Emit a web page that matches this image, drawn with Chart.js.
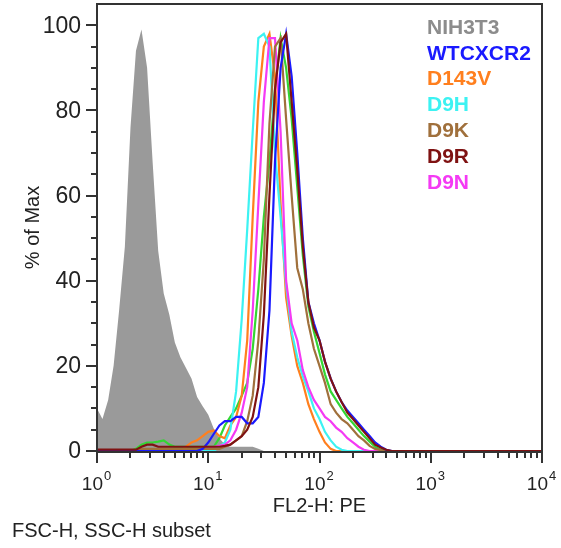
<!DOCTYPE html>
<html>
<head>
<meta charset="utf-8">
<script src="https://cdn.jsdelivr.net/npm/chart.js@4.4.0/dist/chart.umd.min.js"></script>
<style>
  body { margin: 0; background: #fff; }
</style>
</head>
<body>
<canvas id="histo" width="561" height="548"></canvas>
<script>
// FL2-H bin centres (20 bins per decade), last point closes the axis at 10^4
var bins = [1.00, 1.12, 1.26, 1.41, 1.58, 1.78, 2.00, 2.24, 2.51, 2.82,
            3.16, 3.55, 3.98, 4.47, 5.01, 5.62, 6.31, 7.08, 7.94, 8.91,
            10.0, 11.2, 12.6, 14.1, 15.8, 17.8, 20.0, 22.4, 25.1, 28.2,
            31.6, 35.5, 39.8, 44.7, 50.1, 56.2, 63.1, 70.8, 79.4, 89.1,
            100, 112, 126, 141, 158, 178, 200, 224, 251, 282,
            316, 355, 398, 447, 501, 562, 10000];

// % of Max per bin
var nih3t3 = [10, 7.5, 12, 20, 33, 48, 76, 94, 99, 90,
              68, 47, 37, 32, 25.5, 22, 19.5, 17, 12.7, 10.5,
              8.5, 5.3, 3, 1.5, 1, 1, 1, 1, 1, 0.5,
              0, 0, 0, 0, 0, 0, 0, 0, 0, 0,
              0, 0, 0, 0, 0, 0, 0, 0, 0, 0,
              0, 0, 0, 0, 0, 0, 0];
var wtcxcr2 = [0, 0, 0, 0, 0, 0, 0, 0, 0, 0,
               0, 0, 0, 0, 0, 0, 0, 0, 0, 0.5,
               2, 4, 6, 7, 7, 8, 8, 6.5, 6.5, 8,
               16, 33, 68, 90, 98, 88, 70, 50, 35, 30,
               26, 21, 17, 14, 11.5, 9.5, 8, 6.5, 5, 3.5,
               2, 1, 0.3, 0, 0, 0, 0];
var d143v = [0, 0, 0, 0, 0, 0, 0, 0, 0, 0,
             0, 0, 0, 0, 0, 0, 1, 2, 2.5, 3.5,
             4.5, 4.8, 3.5, 3, 6, 8, 13, 26, 55, 82,
             95, 98, 88, 58, 36, 27, 20, 16, 11, 7.5,
             4.5, 2, 0.5, 0, 0, 0, 0, 0, 0, 0,
             0, 0, 0, 0, 0, 0, 0];
var d9h = [0, 0, 0, 0, 0, 0, 0, 0, 0, 0,
           0, 0, 0, 0, 0, 0, 0, 0, 0, 0,
           0, 0, 1, 2, 5, 14, 31, 52, 75, 97,
           98, 95, 70, 55, 39, 28, 22, 17.5, 14, 10,
           7.5, 4.5, 2.5, 1, 0.3, 0, 0, 0, 0, 0,
           0, 0, 0, 0, 0, 0, 0];
var d9k = [0, 0, 0, 0, 0, 0, 0, 0, 0.5, 0.5,
           0.5, 0.5, 0.5, 0.5, 0.5, 0.5, 0.5, 0.5, 0.5, 0.5,
           0.5, 0.5, 0.5, 1, 1.5, 2.5, 3.5, 7, 13, 26,
           45, 77, 95, 97, 78, 60, 43, 38, 30, 24,
           20, 16, 11, 9, 7.5, 6.5, 5, 3.5, 2.5, 1.2,
           0.5, 0.2, 0, 0, 0, 0, 0];
var d9r = [0.3, 0.3, 0.3, 0.3, 0.3, 0.3, 0.3, 0.3, 1, 1.5,
           1.5, 1, 1, 1, 1, 1, 1, 1, 1, 1,
           1, 1, 1, 1.2, 1.5, 2.5, 3.5, 5, 8, 15,
           32, 60, 85, 96, 98, 82, 66, 48, 35, 29,
           26, 21, 17, 14, 11.5, 9, 7.5, 6, 4.5, 3,
           1.5, 0.8, 0.3, 0, 0, 0, 0];
var d9n = [0, 0, 0, 0, 0, 0, 0, 0, 0, 0,
           0, 0, 0, 0, 0, 0, 0, 0, 0, 0.5,
           0.7, 1, 1.2, 1.5, 2.5, 5, 9, 15, 33, 58,
           82, 97, 97, 75, 40, 30, 26, 19, 15, 12,
           10, 8, 7, 5.5, 4.5, 3, 2, 1, 0.3, 0,
           0, 0, 0, 0, 0, 0, 0];
// extra green trace in the overlay (not listed in the legend)
var unlabeled = [0, 0, 0, 0, 0, 0, 0, 0.5, 1.5, 2,
                 2, 2.2, 2.5, 1.5, 1, 1, 1, 1, 1, 1,
                 1, 1, 3, 6, 8, 10, 13, 16, 24, 38,
                 55, 68, 85, 97, 90, 78, 62, 46, 34, 28,
                 23, 18, 14, 12, 10, 8, 6.5, 5, 3.5, 2.2,
                 1, 0.3, 0, 0, 0, 0, 0];

var decades = [1, 10, 100, 1000, 10000];
var exponents = ['0', '1', '2', '3', '4'];
var yTicks = [0, 20, 40, 60, 80, 100];

var FONT = '"Liberation Sans", Arial, Helvetica, sans-serif';
var TEXT = '#222';

function pts(vals) {
  return bins.map(function (x, i) { return { x: x, y: vals[i] }; });
}

function line(label, vals, color, order) {
  return {
    label: label, data: pts(vals), borderColor: color, backgroundColor: color,
    borderWidth: 2.2, pointRadius: 0, tension: 0, fill: false, order: order
  };
}

var flowAxes = {
  id: 'flowAxes',
  beforeDatasetsDraw: function (chart) {
    var ctx = chart.ctx, a = chart.chartArea;
    var xs = chart.scales.x, ys = chart.scales.y;
    ctx.save();
    ctx.strokeStyle = '#333';
    ctx.lineWidth = 2;
    // x axis line + ticks
    ctx.beginPath();
    ctx.moveTo(a.left, a.bottom + 1); ctx.lineTo(a.right, a.bottom + 1);
    decades.forEach(function (d, i) {
      var px = Math.round(xs.getPixelForValue(d));
      ctx.moveTo(px, a.bottom); ctx.lineTo(px, a.bottom + 12);
      if (i < decades.length - 1) {
        for (var m = 2; m <= 9; m++) {
          var mx = Math.round(xs.getPixelForValue(d * m));
          ctx.moveTo(mx, a.bottom); ctx.lineTo(mx, a.bottom + 7);
        }
      }
    });
    // y ticks
    for (var v = 0; v <= 100; v += 5) {
      var py = Math.round(ys.getPixelForValue(v));
      var len = (v % 20 === 0) ? 11 : 6;
      ctx.moveTo(a.left - len, py); ctx.lineTo(a.left, py);
    }
    ctx.stroke();

    // tick labels
    ctx.fillStyle = TEXT;
    ctx.font = '23px ' + FONT;
    ctx.textAlign = 'right';
    ctx.textBaseline = 'middle';
    yTicks.forEach(function (t) {
      ctx.fillText(String(t), 81, ys.getPixelForValue(t) + 1);
    });
    ctx.textAlign = 'left';
    decades.forEach(function (d, i) {
      var px = xs.getPixelForValue(d);
      ctx.font = '19px ' + FONT;
      var w1 = ctx.measureText('10').width;
      ctx.font = '13px ' + FONT;
      var w2 = ctx.measureText(exponents[i]).width;
      var x0 = px - (w1 + w2) / 2 - 1;
      ctx.font = '19px ' + FONT;
      ctx.fillText('10', x0, 485);
      ctx.font = '13px ' + FONT;
      ctx.fillText(exponents[i], x0 + w1 + 1, 476);
    });

    // titles
    ctx.font = '20px ' + FONT;
    ctx.textAlign = 'center';
    ctx.fillText('FL2-H: PE', (a.left + a.right) / 2, 506);
    ctx.textAlign = 'left';
    ctx.fillText('FSC-H, SSC-H subset', 12, 531);
    ctx.save();
    ctx.translate(33, (a.top + a.bottom) / 2);
    ctx.rotate(-Math.PI / 2);
    ctx.textAlign = 'center';
    ctx.fillText('% of Max', 0, 0);
    ctx.restore();
    ctx.restore();
  },
  afterDatasetsDraw: function (chart) {
    var ctx = chart.ctx, a = chart.chartArea;
    ctx.save();
    ctx.strokeStyle = '#333';
    ctx.lineWidth = 2;
    ctx.beginPath();
    ctx.moveTo(a.left, a.bottom + 12);
    ctx.lineTo(a.left, a.top);
    ctx.lineTo(a.right, a.top);
    ctx.lineTo(a.right, a.bottom + 12);
    ctx.stroke();

    // text-only legend, top right
    ctx.font = 'bold 21px ' + FONT;
    ctx.textAlign = 'left';
    ctx.textBaseline = 'middle';
    var row = 0;
    seriesOrder.forEach(function (idx) {
      var ds = chart.data.datasets[idx];
      ctx.fillStyle = ds.legendColor || ds.borderColor;
      ctx.fillText(ds.label, 427, 28 + row * 25.8);
      row++;
    });
    ctx.restore();
  }
};

var datasets = [
  {
    label: 'NIH3T3', data: pts(nih3t3), borderColor: '#9a9a9a', backgroundColor: '#9a9a9a',
    legendColor: '#8c8c8c', borderWidth: 0, pointRadius: 0, tension: 0, fill: 'origin', order: 10
  },
  line('WTCXCR2', wtcxcr2, '#1a1aff', 1),
  line('D143V', d143v, '#ff7f1e', 5),
  line('D9H', d9h, '#3cf2f2', 4),
  line('D9K', d9k, '#a0703c', 2),
  line('D9R', d9r, '#7f1212', 0),
  line('D9N', d9n, '#f43af4', 3),
  line('', unlabeled, '#33d633', 6)
];
var seriesOrder = [0, 1, 2, 3, 4, 5, 6];

new Chart(document.getElementById('histo').getContext('2d'), {
  type: 'line',
  data: { datasets: datasets },
  options: {
    responsive: false,
    animation: false,
    layout: { padding: { left: 97, right: 19, top: 4, bottom: 97 } },
    scales: {
      x: { type: 'logarithmic', min: 1, max: 10000, display: false },
      y: { type: 'linear', min: 0, max: 105, display: false }
    },
    plugins: {
      legend: { display: false },
      tooltip: { enabled: false }
    }
  },
  plugins: [flowAxes]
});
</script>
</body>
</html>
